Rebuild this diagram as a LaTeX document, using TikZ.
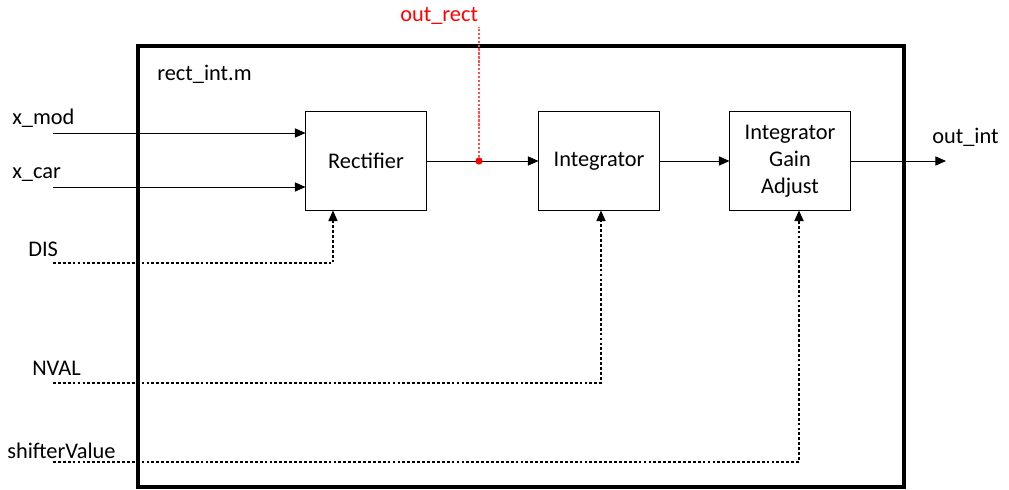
\documentclass[tikz,border=0pt]{standalone}
\usepackage{fontspec}
\setmainfont{Carlito}
\usetikzlibrary{arrows.meta}
\definecolor{CR}{RGB}{255, 0, 0}

\begin{document}
\begin{tikzpicture}[x=0.025cm, y=-0.025cm, font=\fontsize{15.9}{19.2}\selectfont,
        blk/.style={draw, line width=0.7pt, minimum width=3.0cm, minimum height=2.45cm, align=center, inner sep=0pt},
        lbl/.style={inner sep=0pt, anchor=west},
        sig/.style={line width=0.7pt, -{Triangle[length=7.5pt, width=6.5pt]}},
        ctl/.style={line width=0.9pt, dash pattern=on 2pt off 1.5pt, -{Triangle[length=7.5pt, width=6.5pt]}}]
        \useasboundingbox (0,0) rectangle (1009,490);
        \draw[line width=2.8pt] (138,46) rectangle (904,487);
        \node[lbl] (modname) at (157,74) {rect\_int.m};
        \node[blk] (rect) at (366,161) {Rectifier};
        \node[blk] (intg) at (599,161) {Integrator};
        \node[blk] (gain) at (790,161) {Integrator\\Gain\\Adjust};
        \node[lbl] (xmod)  at (12,118)  {x\_mod};
        \node[lbl] (xcar)  at (12,175)  {x\_car};
        \node[lbl] (dis)   at (28,249)  {DIS};
        \node[lbl] (nval)  at (32,368)  {NVAL};
        \node[lbl] (shift) at (7,451)   {shifterValue};
        \node[lbl] (outint) at (932,137) {out\_int};
        \node[lbl, text=CR] (outrect) at (400,16) {out\_rect};
        \coordinate (xmodin)  at (53,133);
        \coordinate (xcarin)  at (53,187);
        \coordinate (disin)   at (53,263);
        \coordinate (nvalin)  at (53,383);
        \coordinate (shiftin) at (53,462);
        \coordinate (outend)  at (946,161);
        \coordinate (tap)     at (479,161);
        \draw[sig] (xmodin) -- (rect.west |- xmodin);
        \draw[sig] (xcarin) -- (rect.west |- xcarin);
        \draw[sig] (rect) -- (intg);
        \draw[sig] (intg) -- (gain);
        \draw[sig] (gain.east) -- (outend);
        \draw[ctl] (disin) -| ([xshift=-0.825cm]rect.south);
        \draw[ctl] (nvalin) -| ([xshift=0.05cm]intg.south);
        \draw[ctl] (shiftin) -| ([xshift=0.225cm]gain.south);
        \draw[draw=CR!70, line width=0.9pt, dash pattern=on 1.6pt off 1.2pt] (tap) -- (tap |- 0,27);
        \fill[CR] (tap) circle (0.09cm);
    \end{tikzpicture}
\end{document}
